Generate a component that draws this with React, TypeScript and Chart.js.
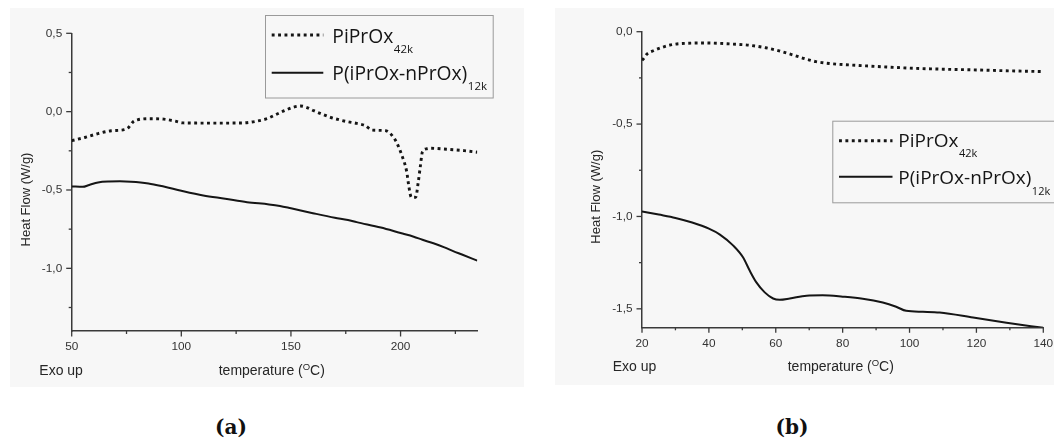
import React, { useEffect, useRef } from "react";
import { Chart, registerables } from "chart.js";

Chart.register(...registerables);

// ---------------- data ----------------
// Panel (a)
const TEMP_A_PIPROX = [50, 56, 62, 68, 74, 76, 78, 80, 86, 92, 97, 101, 110, 120, 128, 134, 139, 143, 147, 151, 154.3, 157, 160.4, 164, 168, 172, 175.7, 180, 184, 187, 193, 196, 198, 200.8, 202.8, 203.8, 204.9, 206.9, 208, 209, 210, 212, 214, 221, 229, 235];
const HF_A_PIPROX = [-0.185, -0.165, -0.14, -0.122, -0.115, -0.1, -0.065, -0.052, -0.045, -0.048, -0.06, -0.072, -0.073, -0.073, -0.072, -0.062, -0.045, -0.02, 0.006, 0.028, 0.036, 0.028, 0.006, -0.015, -0.036, -0.052, -0.064, -0.075, -0.09, -0.118, -0.121, -0.15, -0.191, -0.287, -0.383, -0.479, -0.546, -0.546, -0.457, -0.351, -0.255, -0.237, -0.234, -0.24, -0.249, -0.259];
const TEMP_A_COPOLY = [50, 55, 58, 62, 67, 72, 77, 85, 92, 100, 110, 120, 130, 140, 145, 150, 160, 170, 176, 180, 191, 200, 206, 210, 215, 220, 224, 228, 235];
const HF_A_COPOLY = [-0.477, -0.48, -0.468, -0.452, -0.446, -0.445, -0.447, -0.458, -0.478, -0.505, -0.535, -0.556, -0.578, -0.592, -0.602, -0.617, -0.648, -0.677, -0.691, -0.705, -0.74, -0.775, -0.798, -0.818, -0.84, -0.866, -0.89, -0.912, -0.951];

// Panel (b)
const TEMP_B_PIPROX = [20, 20.5, 21.5, 23.4, 26, 29, 33, 39, 47, 52, 57, 61, 65, 69, 72, 76, 82, 90, 100, 110, 120, 130, 140];
const HF_B_PIPROX = [-0.155, -0.145, -0.121, -0.103, -0.085, -0.07, -0.063, -0.061, -0.067, -0.073, -0.087, -0.104, -0.125, -0.148, -0.162, -0.172, -0.18, -0.188, -0.197, -0.203, -0.207, -0.212, -0.216];
const TEMP_B_COPOLY = [20, 25, 30, 35, 40, 43.3, 47.3, 50.2, 52.2, 54.2, 56.7, 59.2, 61.2, 64.2, 69.2, 74, 80, 86, 92, 96, 99, 104, 109, 119, 129, 140];
const HF_B_COPOLY = [-0.973, -0.99, -1.008, -1.033, -1.066, -1.098, -1.158, -1.221, -1.293, -1.357, -1.411, -1.444, -1.451, -1.444, -1.429, -1.427, -1.434, -1.445, -1.466, -1.489, -1.511, -1.516, -1.52, -1.547, -1.575, -1.603];

// Axis ticks
const X_TICKS_A = [50, 75, 100, 125, 150, 175, 200, 225];
const X_LABELS_A = [50, 100, 150, 200];
const Y_TICKS_A = [0.5, 0.25, 0, -0.25, -0.5, -0.75, -1, -1.25];
const Y_LABELS_A = [0.5, 0, -0.5, -1];
const X_TICKS_B = [20, 30, 40, 50, 60, 70, 80, 90, 100, 110, 120, 130, 140];
const X_LABELS_B = [20, 40, 60, 80, 100, 120, 140];
const Y_TICKS_B = [0, -0.25, -0.5, -0.75, -1, -1.25, -1.5];
const Y_LABELS_B = [0, -0.5, -1, -1.5];

// Texts
const SERIES_NAMES = ["PiPrOx", "P(iPrOx-nPrOx)"];
const SERIES_SUBS = ["42k", "12k"];
const Y_TITLE = "Heat Flow (W/g)";
const X_TITLE_PARTS = ["temperature (", "O", "C)"];
const EXO_LABEL = "Exo up";
const CAPTIONS = ["(a)", "(b)"];

// ---------------- styles ----------------
const LINE_COLOR = "#151515";
const AXIS_COLOR = "#3a3a3a";
const TICK_TEXT = "#333333";
const TITLE_TEXT = "#262626";
const PANEL_BG = "#f7f7f7";
const DOT_WIDTH = 2.9;
const DOT_DASH = [2.9, 3.5];
const SOLID_WIDTH = 2;
const SANS = '"Liberation Sans", Arial, sans-serif';
const LEGEND_FONT = '"Open Sans", "Noto Sans", sans-serif';

type PanelLayout = {
  left: number; top: number; width: number; height: number;
  yAxisWidth: number; xAxisHeight: number; padTop: number; padRight: number;
  xMin: number; xMax: number; yMin: number; yMax: number;
  yTitle: { x: number; y: number };
  exo: { x: number; y: number };
  xTitle: { x: number; y: number };
  legend: {
    x: number; y: number; w: number; h: number;
    lineX1: number; lineX2: number; lineY: number[];
    textX: number; base: number[]; subBase: number[];
    size: number; subSize: number;
  };
};

const PANEL_A: PanelLayout = {
  left: 10, top: 8, width: 514, height: 379,
  yAxisWidth: 61.7, xAxisHeight: 56, padTop: 25.3, padRight: 46.7,
  xMin: 50, xMax: 235, yMin: -1.4, yMax: 0.5,
  yTitle: { x: 16.7, y: 191.5 },
  exo: { x: 29.3, y: 367.3 },
  xTitle: { x: 208.7, y: 367.3 },
  legend: {
    x: 255, y: 7, w: 227.7, h: 82.5,
    lineX1: 261.7, lineX2: 313.3, lineY: [27, 64.7],
    textX: 322.3, base: [34.7, 72], subBase: [44.7, 82],
    size: 19.3, subSize: 11.5,
  },
};

const PANEL_B: PanelLayout = {
  left: 555, top: 8, width: 499, height: 377,
  yAxisWidth: 87, xAxisHeight: 57.7, padTop: 23.7, padRight: 10.7,
  xMin: 20, xMax: 140, yMin: -1.6, yMax: 0,
  yTitle: { x: 41.7, y: 188.7 },
  exo: { x: 57.7, y: 363.3 },
  xTitle: { x: 232.7, y: 363.3 },
  legend: {
    x: 277.3, y: 112.7, w: 240, h: 81.6,
    lineX1: 284, lineX2: 337.5, lineY: [132.7, 168.7],
    textX: 343.3, base: [138.7, 176.3], subBase: [148.7, 187],
    size: 19, subSize: 11,
  },
};

const fmt = (v: number) => v.toFixed(1).replace(".", ",").replace("-0,0", "0,0");
const isIn = (arr: number[], v: number) => arr.some((a) => Math.abs(a - v) < 1e-9);

function makeChart(
  canvas: HTMLCanvasElement,
  L: PanelLayout,
  temps: number[][],
  flows: number[][],
  xTicks: number[],
  xLabels: number[],
  yTicks: number[],
  yLabels: number[]
) {
  const datasets = temps.map((t, i) => ({
    label: SERIES_NAMES[i] + SERIES_SUBS[i],
    data: t.map((x, j) => ({ x, y: flows[i][j] })),
    borderColor: LINE_COLOR,
    backgroundColor: LINE_COLOR,
    borderWidth: i === 0 ? DOT_WIDTH : SOLID_WIDTH,
    borderDash: i === 0 ? DOT_DASH : [],
    pointRadius: 0,
    cubicInterpolationMode: "monotone" as const,
    fill: false,
  }));

  const decor = {
    id: "decor",
    afterDraw(chart: any) {
      const { ctx, chartArea, scales } = chart;
      const xs = scales.x;
      const ys = scales.y;
      ctx.save();
      // tick marks (outward)
      ctx.strokeStyle = AXIS_COLOR;
      ctx.lineWidth = 1.3;
      xs.ticks.forEach((t: any) => {
        const px = xs.getPixelForValue(t.value);
        const len = isIn(xLabels, t.value) ? 5.5 : 3;
        ctx.beginPath();
        ctx.moveTo(px, chartArea.bottom);
        ctx.lineTo(px, chartArea.bottom + len);
        ctx.stroke();
      });
      ys.ticks.forEach((t: any) => {
        const py = ys.getPixelForValue(t.value);
        const len = isIn(yLabels, t.value) ? 5.5 : 3;
        ctx.beginPath();
        ctx.moveTo(chartArea.left - len, py);
        ctx.lineTo(chartArea.left, py);
        ctx.stroke();
      });

      // y title
      ctx.fillStyle = TITLE_TEXT;
      ctx.save();
      ctx.translate(L.yTitle.x, L.yTitle.y);
      ctx.rotate(-Math.PI / 2);
      ctx.font = `13px ${SANS}`;
      ctx.textAlign = "center";
      ctx.textBaseline = "middle";
      ctx.fillText(Y_TITLE, 0, 0);
      ctx.restore();

      // Exo up
      ctx.textAlign = "left";
      ctx.textBaseline = "alphabetic";
      ctx.font = `14px ${SANS}`;
      ctx.fillText(EXO_LABEL, L.exo.x, L.exo.y);

      // x title with superscript O
      let x = L.xTitle.x;
      ctx.font = `14px ${SANS}`;
      ctx.fillText(X_TITLE_PARTS[0], x, L.xTitle.y);
      x += ctx.measureText(X_TITLE_PARTS[0]).width;
      ctx.font = `9.5px ${SANS}`;
      ctx.fillText(X_TITLE_PARTS[1], x, L.xTitle.y - 5.5);
      x += ctx.measureText(X_TITLE_PARTS[1]).width;
      ctx.font = `14px ${SANS}`;
      ctx.fillText(X_TITLE_PARTS[2], x, L.xTitle.y);

      // legend
      const G = L.legend;
      ctx.strokeStyle = "#9a9a9a";
      ctx.lineWidth = 1;
      ctx.strokeRect(G.x + 0.5, G.y + 0.5, G.w, G.h);
      SERIES_NAMES.forEach((name, i) => {
        ctx.strokeStyle = LINE_COLOR;
        ctx.lineWidth = i === 0 ? DOT_WIDTH : SOLID_WIDTH;
        ctx.setLineDash(i === 0 ? DOT_DASH : []);
        ctx.beginPath();
        ctx.moveTo(G.lineX1, G.lineY[i]);
        ctx.lineTo(G.lineX2, G.lineY[i]);
        ctx.stroke();
        ctx.setLineDash([]);
        ctx.fillStyle = LINE_COLOR;
        ctx.font = `${G.size}px ${LEGEND_FONT}`;
        ctx.fillText(name, G.textX, G.base[i]);
        const w = ctx.measureText(name).width;
        ctx.font = `${G.subSize}px ${LEGEND_FONT}`;
        ctx.fillText(SERIES_SUBS[i], G.textX + w + 0.5, G.subBase[i]);
      });
      ctx.restore();
    },
  };

  return new Chart(canvas, {
    type: "line",
    data: { datasets },
    plugins: [decor],
    options: {
      animation: false,
      responsive: false,
      maintainAspectRatio: false,
      devicePixelRatio: 1,
      layout: { padding: { left: 0, top: L.padTop, right: L.padRight, bottom: 0 } },
      plugins: { legend: { display: false }, tooltip: { enabled: false }, title: { display: false } },
      scales: {
        x: {
          type: "linear",
          min: L.xMin,
          max: L.xMax,
          grid: { display: false, drawTicks: false, tickLength: 0 },
          border: { display: true, color: AXIS_COLOR, width: 1.5 },
          afterBuildTicks: (s: any) => {
            s.ticks = xTicks.map((v) => ({ value: v }));
          },
          afterFit: (s: any) => {
            s.height = L.xAxisHeight;
            s.paddingLeft = 0;
            s.paddingRight = 0;
          },
          ticks: {
            autoSkip: false,
            maxRotation: 0,
            padding: 9,
            color: TICK_TEXT,
            font: { family: SANS, size: 11.8 },
            callback: (v: any) => (isIn(xLabels, Number(v)) ? String(v) : ""),
          },
        },
        y: {
          type: "linear",
          min: L.yMin,
          max: L.yMax,
          grid: { display: false, drawTicks: false, tickLength: 0 },
          border: { display: true, color: AXIS_COLOR, width: 1.5 },
          afterBuildTicks: (s: any) => {
            s.ticks = yTicks.map((v) => ({ value: v }));
          },
          afterFit: (s: any) => {
            s.width = L.yAxisWidth;
            s.paddingTop = 0;
            s.paddingBottom = 0;
          },
          ticks: {
            autoSkip: false,
            padding: 9.5,
            color: TICK_TEXT,
            font: { family: SANS, size: 11.8 },
            callback: (v: any) => (isIn(yLabels, Number(v)) ? fmt(Number(v)) : ""),
          },
        },
      },
    } as any,
  });
}

function Panel(props: {
  L: PanelLayout;
  temps: number[][];
  flows: number[][];
  xTicks: number[];
  xLabels: number[];
  yTicks: number[];
  yLabels: number[];
}) {
  const ref = useRef<HTMLCanvasElement | null>(null);
  const { L } = props;
  useEffect(() => {
    if (!ref.current) return;
    const c = makeChart(ref.current, L, props.temps, props.flows, props.xTicks, props.xLabels, props.yTicks, props.yLabels);
    return () => c.destroy();
  }, []);
  return (
    <div
      style={{
        position: "absolute",
        left: L.left,
        top: L.top,
        width: L.width,
        height: L.height,
        background: PANEL_BG,
        overflow: "hidden",
      }}
    >
      <canvas ref={ref} width={L.width} height={L.height} style={{ width: L.width, height: L.height, display: "block" }} />
    </div>
  );
}

const captionStyle = (cx: number): React.CSSProperties => ({
  position: "absolute",
  left: cx - 40,
  width: 80,
  top: 417,
  textAlign: "center",
  font: 'bold 20px "DejaVu Serif", serif',
  lineHeight: "20px",
  color: "#111",
});

export default function App() {
  return (
    <div style={{ position: "absolute", left: 0, top: 0, width: 1054, height: 439, background: "#fff", overflow: "hidden" }}>
      <Panel
        L={PANEL_A}
        temps={[TEMP_A_PIPROX, TEMP_A_COPOLY]}
        flows={[HF_A_PIPROX, HF_A_COPOLY]}
        xTicks={X_TICKS_A}
        xLabels={X_LABELS_A}
        yTicks={Y_TICKS_A}
        yLabels={Y_LABELS_A}
      />
      <Panel
        L={PANEL_B}
        temps={[TEMP_B_PIPROX, TEMP_B_COPOLY]}
        flows={[HF_B_PIPROX, HF_B_COPOLY]}
        xTicks={X_TICKS_B}
        xLabels={X_LABELS_B}
        yTicks={Y_TICKS_B}
        yLabels={Y_LABELS_B}
      />
      <div style={captionStyle(231)}>{CAPTIONS[0]}</div>
      <div style={captionStyle(792)}>{CAPTIONS[1]}</div>
    </div>
  );
}
